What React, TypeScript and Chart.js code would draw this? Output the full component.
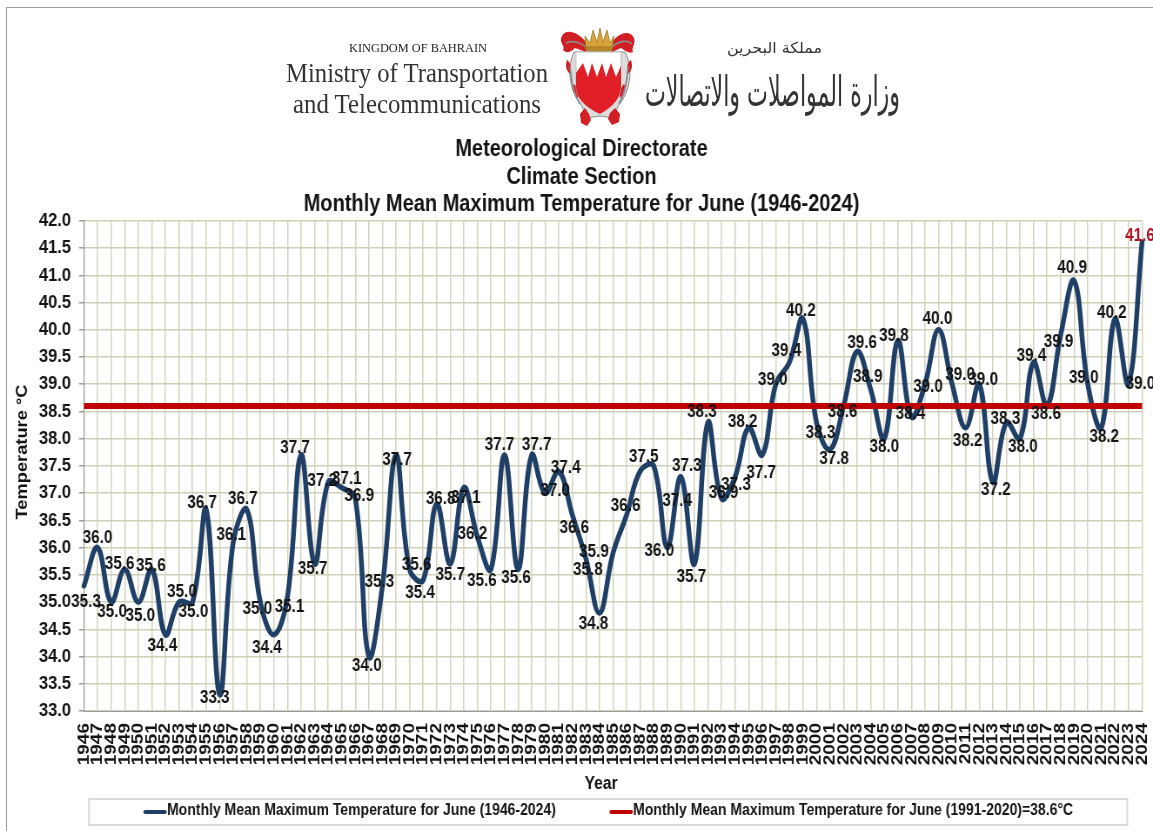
import React, { useEffect, useRef } from "react";
import { Chart, registerables } from "chart.js";

Chart.register(...registerables);

const SANS = '"Liberation Sans", Arial, sans-serif';
// The reference is a horizontally squeezed picture: the canvas is drawn wider and shown at this ratio.
const SQUEEZE = 0.87;
const PAGE_W = 1153;
const PAGE_H = 831;
const sx = (px: number) => px / SQUEEZE;

const years = [
  1946, 1947, 1948, 1949, 1950, 1951, 1952, 1953, 1954, 1955, 1956, 1957, 1958, 1959, 1960, 1961,
  1962, 1963, 1964, 1965, 1966, 1967, 1968, 1969, 1970, 1971, 1972, 1973, 1974, 1975, 1976, 1977,
  1978, 1979, 1980, 1981, 1982, 1983, 1984, 1985, 1986, 1987, 1988, 1989, 1990, 1991, 1992, 1993,
  1994, 1995, 1996, 1997, 1998, 1999, 2000, 2001, 2002, 2003, 2004, 2005, 2006, 2007, 2008, 2009,
  2010, 2011, 2012, 2013, 2014, 2015, 2016, 2017, 2018, 2019, 2020, 2021, 2022, 2023, 2024,
];

const juneMeanMax = [
  35.3, 36.0, 35.0, 35.6, 35.0, 35.6, 34.4, 35.0, 35.0, 36.7, 33.3, 36.1, 36.7, 35.0, 34.4, 35.1,
  37.7, 35.7, 37.2, 37.1, 36.9, 34.0, 35.3, 37.7, 35.6, 35.4, 36.8, 35.7, 37.1, 36.2, 35.6, 37.7,
  35.6, 37.7, 37.0, 37.4, 36.6, 35.8, 34.8, 35.9, 36.6, 37.4, 37.5, 36.0, 37.3, 35.7, 38.3, 36.9,
  37.3, 38.2, 37.7, 39.0, 39.4, 40.2, 38.3, 37.8, 38.6, 39.6, 38.9, 38.0, 39.8, 38.4, 39.0, 40.0,
  39.0, 38.2, 39.0, 37.2, 38.3, 38.0, 39.4, 38.6, 39.9, 40.9, 39.0, 38.2, 40.2, 39.0, 41.6,
];

const climateNormal = 38.6;

const seriesName = "Monthly Mean Maximum Temperature for June (1946-2024)";
const normalName = "Monthly Mean Maximum Temperature for June (1991-2020)=38.6°C";
const titleLines = ["Meteorological Directorate", "Climate Section", seriesName];

// Where each value label sits relative to its point, as [dx, dy] per year.
const labelNudge: [number, number][] = [
  [2, 16], [0, -9], [1, 10], [-5, -5], [2, 14], [-1, -3], [-3, 11], [3, -10], [1, 10], [-4, -6],
  [-5, 4], [-2, -7], [-4, -10], [-3, 7], [-7, 13], [2, 11], [-6, -7], [-2, 5], [-6, -1], [5, -9],
  [4, -2], [-2, 10], [-3, -4], [1, 5], [7, -4], [-3, 13], [4, -5], [0, 11], [2, 10], [-5, -3],
  [-9, 12], [-5, -10], [-2, 9], [5, -10], [10, -2], [7, -3], [2, 13], [2, 12], [-6, 11], [-19, -1],
  [-1, -9], [37, 30], [-10, -9], [-8, 4], [6, -11], [-3, 13], [-6, -10], [2, -5], [1, 8], [-6, -6],
  [-1, 18], [-3, -4], [-3, -11], [-2, -8], [4, 11], [4, 10], [-1, 6], [5, -8], [-3, -12], [0, 9],
  [-4, -4], [-1, -3], [3, 3], [-1, -11], [8, -9], [2, 13], [4, -4], [3, 8], [-1, -3], [3, 9],
  [-2, -6], [-1, 8], [-2, 7], [-2, -13], [-4, -6], [3, 9], [-3, -6], [12, 0], [-2, -6],
];

const valueLabels = {
  id: "valueLabels",
  afterDatasetsDraw(chart: any) {
    const { ctx } = chart;
    const points = chart.getDatasetMeta(0).data;
    ctx.save();
    ctx.font = `bold 17.5px ${SANS}`;
    ctx.textAlign = "center";
    ctx.textBaseline = "middle";
    points.forEach((pt: any, i: number) => {
      ctx.fillStyle = i === points.length - 1 ? "#b01020" : "#141414";
      ctx.fillText(juneMeanMax[i].toFixed(1), pt.x + sx(labelNudge[i][0]), pt.y + labelNudge[i][1]);
    });
    ctx.restore();
  },
};

const captionsAndLegend = {
  id: "captionsAndLegend",
  afterDraw(chart: any) {
    const { ctx } = chart;
    const sets = chart.data.datasets;
    ctx.save();
    ctx.fillStyle = "#141414";
    ctx.textBaseline = "middle";

    ctx.font = `bold 18px ${SANS}`;
    ctx.textAlign = "center";
    ctx.fillText("Year", sx(601), 784);
    ctx.save();
    ctx.translate(sx(23), 452);
    ctx.rotate(-Math.PI / 2);
    ctx.font = `bold 18.3px ${SANS}`;
    ctx.fillText("Temperature °C", 0, 0);
    ctx.restore();

    ctx.strokeStyle = "#d9d9d9";
    ctx.lineWidth = 2;
    ctx.strokeRect(sx(89), 799, sx(1038), 26);

    ctx.textAlign = "left";
    ctx.font = `bold 16.1px ${SANS}`;
    [
      [144, 0],
      [610, 1],
    ].forEach(([x, idx]) => {
      ctx.strokeStyle = sets[idx].borderColor;
      ctx.lineWidth = 4;
      ctx.lineCap = "round";
      ctx.beginPath();
      ctx.moveTo(sx(x + 1), 812);
      ctx.lineTo(sx(x + 21), 812);
      ctx.stroke();
      ctx.fillStyle = "#141414";
      ctx.fillText(sets[idx].label, sx(x + 23), 811);
    });
    ctx.restore();
  },
};

function Header() {
  const serif = '"Liberation Serif", serif';
  const arabic = '"DejaVu Sans", sans-serif';
  return (
    <svg
      width={PAGE_W}
      height={135}
      style={{ position: "absolute", left: 0, top: 0, pointerEvents: "none" }}
    >
      <text x={349} y={52} fontFamily={serif} fontSize={13} fill="#222" textLength={138} lengthAdjust="spacingAndGlyphs">
        KINGDOM OF BAHRAIN
      </text>
      <text x={286} y={82} fontFamily={serif} fontSize={28} fill="#333" textLength={262} lengthAdjust="spacingAndGlyphs">
        Ministry of Transportation
      </text>
      <text x={293} y={113} fontFamily={serif} fontSize={28} fill="#333" textLength={248} lengthAdjust="spacingAndGlyphs">
        and Telecommunications
      </text>
      <text x={822} y={53} direction="rtl" fontFamily={arabic} fontSize={15} fill="#333" textLength={95} lengthAdjust="spacingAndGlyphs">
        مملكة البحرين
      </text>
      <text x={900} y={106} direction="rtl" fontFamily={arabic} fontSize={42} fill="#333" textLength={255} lengthAdjust="spacingAndGlyphs">
        وزارة المواصلات والاتصالات
      </text>

      {/* emblem: foliage */}
      <path d="M574 52 C566 70 570 92 582 106 L586 118 L600 116 L614 118 L618 106 C630 92 634 70 625 52 Z" fill="#dcdcdc" stroke="#8a8a8a" strokeWidth={1} />
      <path d="M585 108 l-5 6 1 9 6 3 4-6 -2-6 z M615 108 l5 6 -1 8 -7 3 -4-6 2-6 z" fill="#d11f26" />
      <path d="M586 42 C578 32 566 28 562 36 C558 42 566 46 563 50 C567 54 571 52 575 48 L586 52 Z" fill="#d11f26" />
      <path d="M612 42 C620 32 630 30 634 38 C636 44 631 48 633 52 C628 54 625 50 621 48 L612 52 Z" fill="#d11f26" />
      <path d="M567 60 C570 62 572 66 570 74 C566 70 565 66 567 60 Z M631 60 C628 62 626 66 628 74 C632 70 633 66 631 60 Z M574 84 c-3 4 -1 10 4 14 c1 -5 0 -10 -4 -14 Z M624 84 c3 4 1 10 -4 14 c-1 -5 0 -10 4 -14 Z" fill="#d11f26" />
      <path d="M566 43 C572 40 580 42 586 47 M612 47 C620 40 628 40 632 44 M570 66 C572 80 572 92 580 104 M628 66 C627 80 626 92 619 104" fill="none" stroke="#8e8e8e" strokeWidth={1.6} />
      {/* emblem: shield */}
      <path d="M576 52 H621 V86 C621 100 610 108 600 114 C588 108 576 100 576 86 Z" fill="#ffffff" stroke="#b8b8b8" strokeWidth={0.8} />
      <path d="M576 73 L583 63 L588 77 L592 63 L597 77 L602 63 L606 77 L611 63 L616 77 L621 66 V86 C621 100 610 108 600 114 C588 108 576 100 576 86 Z" fill="#e11f26" />
      {/* emblem: crown */}
      <path d="M586 51 L585 36 L590 43 L593 30 L597 42 L600 28 L603 42 L607 30 L610 43 L614 36 L612 51 Z" fill="#d6a437" stroke="#8a6a1c" strokeWidth={0.6} />
      <rect x={586} y={46} width={26} height={5} fill="#b5852a" />
    </svg>
  );
}

export default function App() {
  const ref = useRef<HTMLCanvasElement | null>(null);

  useEffect(() => {
    if (!ref.current) return;
    const plotLeft = sx(84);
    const plotRight = sx(1142);
    const chartW = sx(PAGE_W);
    // Chosen so that the title's centre lands at x = 581 on the page.
    const padLeft = 2 * sx(581.5) - plotRight;
    const chart = new Chart(ref.current, {
      type: "line",
      data: {
        labels: years.map(String),
        datasets: [
          {
            label: seriesName,
            data: juneMeanMax,
            borderColor: "#1f3f66",
            borderWidth: 5.5,
            tension: 0.4,
            pointRadius: 0,
            borderCapStyle: "round",
            clip: false,
            order: 1,
          },
          {
            label: normalName,
            data: years.map(() => climateNormal),
            borderColor: "#c00000",
            borderWidth: 6,
            tension: 0,
            pointRadius: 0,
            order: 0,
          },
        ],
      },
      options: {
        responsive: false,
        animation: false,
        layout: { padding: { top: 136, left: padLeft, right: chartW - plotRight, bottom: 0 } },
        plugins: {
          legend: { display: false },
          tooltip: { enabled: false },
          title: {
            display: true,
            text: titleLines,
            color: "#141414",
            font: { family: SANS, size: 23, weight: "bold", lineHeight: 1.2 },
            padding: { top: 0, bottom: 2 },
          },
        },
        scales: {
          x: {
            type: "category",
            offset: false,
            afterFit(scale: any) {
              scale.height = 120;
              scale.paddingLeft = 0;
              scale.paddingRight = 0;
            },
            grid: { color: "#d3d3be", lineWidth: 1.5, drawTicks: false },
            border: { color: "#9a9a9a", width: 1 },
            ticks: {
              autoSkip: false,
              minRotation: 90,
              maxRotation: 90,
              padding: 12,
              color: "#141414",
              font: { family: SANS, size: 19, weight: "bold" },
            },
          },
          y: {
            min: 33,
            max: 42,
            afterFit(scale: any) {
              scale.width = plotLeft - padLeft;
              scale.paddingTop = 0;
              scale.paddingBottom = 0;
            },
            grid: { color: "#cfcfb8", lineWidth: 1.5, tickColor: "#9a9a9a", tickLength: sx(5) },
            border: { color: "#9a9a9a", width: 1 },
            ticks: {
              stepSize: 0.5,
              padding: sx(8),
              color: "#141414",
              font: { family: SANS, size: 19, weight: "bold" },
              callback: (v: any) => Number(v).toFixed(1),
            },
          },
        },
      },
      plugins: [valueLabels, captionsAndLegend],
    } as any);
    return () => chart.destroy();
  }, []);

  return (
    <div style={{ position: "absolute", left: 0, top: 0, width: PAGE_W, height: PAGE_H, background: "#fff", overflow: "hidden" }}>
      <div style={{ position: "absolute", left: 6, top: 7, width: 1147, height: 824, borderLeft: "1px solid #9a9a9a", borderTop: "1px solid #9a9a9a", boxSizing: "border-box" }} />
      <canvas
        ref={ref}
        width={Math.round(sx(PAGE_W))}
        height={PAGE_H}
        style={{ position: "absolute", left: 0, top: 0, width: PAGE_W, height: PAGE_H }}
      />
      <Header />
    </div>
  );
}
